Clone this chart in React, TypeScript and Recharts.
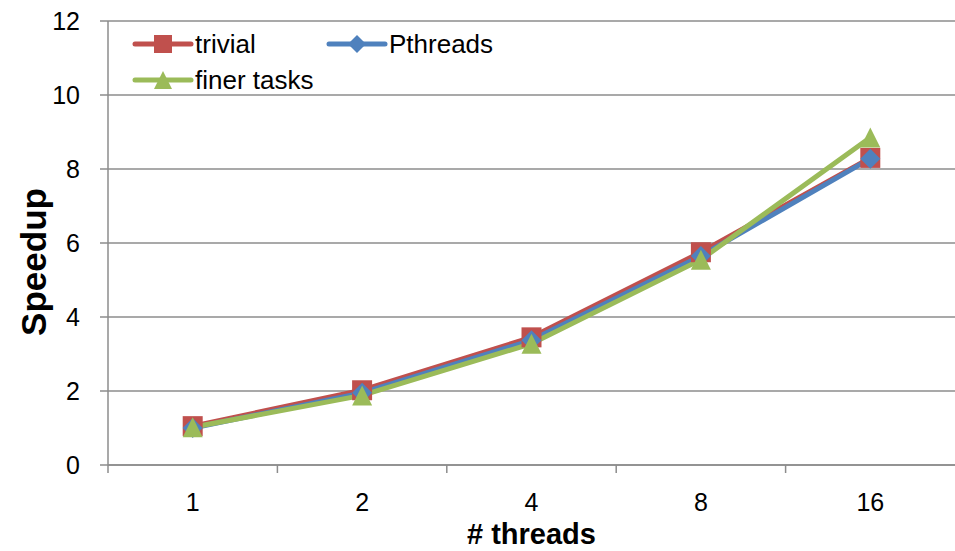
import React from 'react';
import { LineChart, Line, XAxis, YAxis, CartesianGrid } from 'recharts';

// Thread counts on the x axis
const threads = ['1', '2', '4', '8', '16'];
// Speedup per implementation
const trivial = [1.05, 2.02, 3.45, 5.75, 8.3];
const pthreads = [1.0, 1.95, 3.37, 5.65, 8.28];
const finerTasks = [1.02, 1.88, 3.28, 5.55, 8.85];
const yTicks = [0, 2, 4, 6, 8, 10, 12];

const RED = '#C0504D';
const BLUE = '#4F81BD';
const GREEN = '#9BBB59';
const GRID = '#8C8C8C';
const FONT = '"Liberation Sans", Arial, sans-serif';

const data = threads.map((t, i) => ({
  threads: t,
  trivial: trivial[i],
  pthreads: pthreads[i],
  finer: finerTasks[i],
}));

type Marker = 'square' | 'diamond' | 'triangle';

const markerPath = (kind: Marker, cx: number, cy: number, r: number) => {
  if (kind === 'square') return `M${cx - r},${cy - r}h${2 * r}v${2 * r}h${-2 * r}Z`;
  if (kind === 'diamond') return `M${cx},${cy - r}L${cx + r},${cy}L${cx},${cy + r}L${cx - r},${cy}Z`;
  return `M${cx},${cy - r}L${cx + r},${cy + r}L${cx - r},${cy + r}Z`;
};

const makeDot = (kind: Marker, color: string) => (props: any) => {
  const { cx, cy, index } = props;
  if (cx == null || cy == null) return <g key={index} />;
  return <path key={index} d={markerPath(kind, cx, cy, 10)} fill={color} />;
};

const series = [
  { key: 'trivial', name: 'trivial', color: RED, marker: 'square' as Marker },
  { key: 'pthreads', name: 'Pthreads', color: BLUE, marker: 'diamond' as Marker },
  { key: 'finer', name: 'finer tasks', color: GREEN, marker: 'triangle' as Marker },
];

// Category tick: label at the band centre, tick mark at the band's left edge
const CategoryTick = (props: any) => {
  const { x, y, payload } = props;
  const half = payload && payload.offset ? payload.offset : 0;
  const axisY = y - 28;
  return (
    <g>
      <line x1={x - half} x2={x - half} y1={axisY} y2={axisY + 8} stroke={GRID} strokeWidth={1.5} />
      <text x={x} y={y} dy="0.71em" textAnchor="middle" fontSize={25} fontFamily={FONT} fill="#000">
        {payload.value}
      </text>
    </g>
  );
};

const legendRows = [
  [
    { s: series[0], x: 135 },
    { s: series[1], x: 329 },
  ],
  [{ s: series[2], x: 135 }],
];

const Legend = () => (
  <svg width={955} height={551} style={{ position: 'absolute', left: 0, top: 0, pointerEvents: 'none' }}>
    {legendRows.map((row, ri) =>
      row.map(({ s, x }) => {
        const cy = 44 + ri * 36;
        return (
          <g key={s.key}>
            <line x1={x} x2={x + 56} y1={cy} y2={cy} stroke={s.color} strokeWidth={5} strokeLinecap="round" />
            <path d={markerPath(s.marker, x + 28, cy, 9)} fill={s.color} />
            <text x={x + 60} y={cy} dy="0.36em" fontSize={26} fontFamily={FONT} fill="#000">
              {s.name}
            </text>
          </g>
        );
      })
    )}
  </svg>
);

export default function App() {
  return (
    <div style={{ position: 'absolute', left: 0, top: 0, width: 955, height: 551, background: '#fff' }}>
      <LineChart width={955} height={551} data={data} margin={{ top: 21, right: 0, bottom: 0, left: 0 }}>
        <CartesianGrid vertical={false} stroke={GRID} strokeWidth={1.5} />
        <XAxis
          dataKey="threads"
          scale="band"
          height={86}
          tickLine={false}
          tickSize={8}
          tickMargin={20}
          axisLine={{ stroke: GRID, strokeWidth: 1.5 }}
          tick={<CategoryTick />}
          interval={0}
          label={{
            value: '# threads',
            position: 'insideBottom',
            offset: 7,
            style: { fontSize: 29, fontWeight: 'bold', fontFamily: FONT, fill: '#000' },
          }}
        />
        <YAxis
          domain={[0, 12]}
          ticks={yTicks}
          width={108}
          tickSize={8}
          tickMargin={20}
          tickLine={{ stroke: GRID, strokeWidth: 1.5 }}
          axisLine={{ stroke: GRID, strokeWidth: 1.5 }}
          tick={{ fontSize: 25, fontFamily: FONT, fill: '#000' }}
          label={(p: any) => {
            const vb = p.viewBox || {};
            const cx = 33;
            const cy = (vb.y ?? 21) + (vb.height ?? 444) / 2 + 19;
            return (
              <text
                x={cx}
                y={cy}
                transform={`rotate(-90 ${cx} ${cy})`}
                textAnchor="middle"
                dy="0.36em"
                fontSize={35}
                fontWeight="bold"
                fontFamily={FONT}
                fill="#000"
              >
                Speedup
              </text>
            );
          }}
        />
        {series.map((s) => (
          <Line
            key={s.key}
            dataKey={s.key}
            name={s.name}
            stroke={s.color}
            strokeWidth={5}
            dot={makeDot(s.marker, s.color)}
            activeDot={false}
            isAnimationActive={false}
          />
        ))}
      </LineChart>
      <Legend />
    </div>
  );
}
